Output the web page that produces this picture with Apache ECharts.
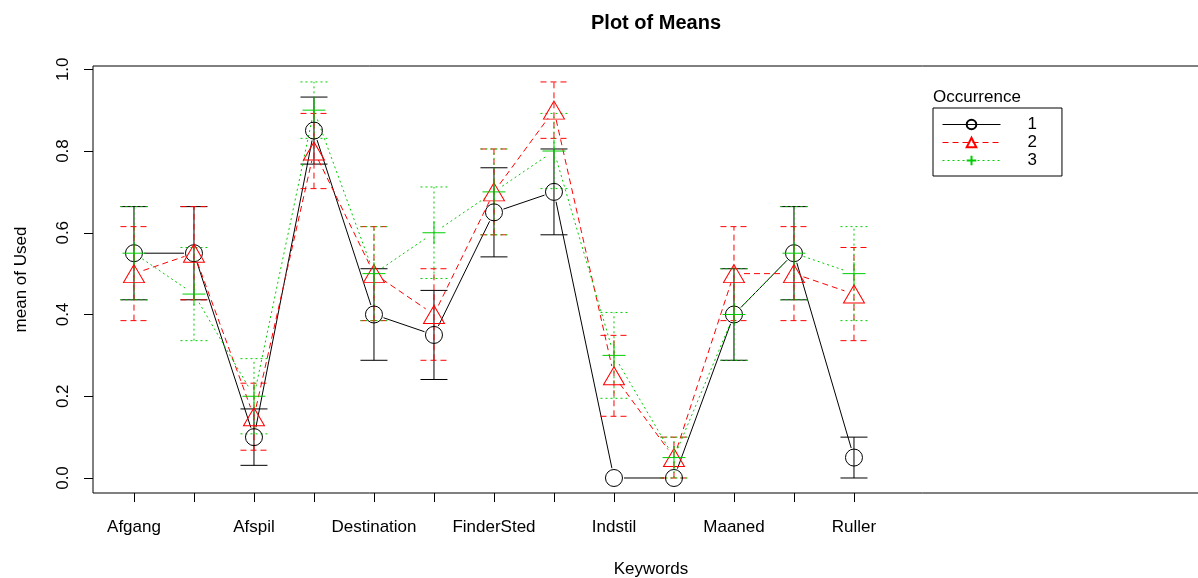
<!DOCTYPE html>
<html>
<head>
<meta charset="utf-8">
<title>Plot of Means</title>
<script src="https://cdn.jsdelivr.net/npm/echarts@6/dist/echarts.min.js"></script>
<style>
  html, body { margin: 0; padding: 0; background: #fff; }
  #chart { width: 1198px; height: 578px; }
</style>
</head>
<body>
<div id="chart"></div>
<script>
// keyword positions 1..13, only every other label is printed in the original
var tickLabels = ['Afgang', null, 'Afspil', null, 'Destination', null, 'FinderSted', null, 'Indstil', null, 'Maaned', null, 'Ruller'];
var yTicks = [0, 0.2, 0.4, 0.6, 0.8, 1.0];
var occurrence = ['1', '2', '3'];

// means
var mean1 = [0.55, 0.55, 0.10, 0.85, 0.40, 0.35, 0.65, 0.70, 0.00, 0.00, 0.40, 0.55, 0.05];
var mean2 = [0.50, 0.55, 0.15, 0.80, 0.50, 0.40, 0.70, 0.90, 0.25, 0.05, 0.50, 0.50, 0.45];
var mean3 = [0.55, 0.45, 0.20, 0.90, 0.50, 0.60, 0.70, 0.80, 0.30, 0.05, 0.40, 0.55, 0.50];

// half length of the error bars
var se1 = [0.114, 0.114, 0.069, 0.082, 0.112, 0.109, 0.109, 0.105, 0, 0, 0.112, 0.114, 0.05];
var se2 = [0.115, 0.114, 0.082, 0.092, 0.115, 0.112, 0.105, 0.069, 0.099, 0.05, 0.115, 0.115, 0.114];
var se3 = [0.114, 0.114, 0.092, 0.069, 0.115, 0.112, 0.105, 0.092, 0.105, 0.05, 0.112, 0.114, 0.115];

var FONT = 'Liberation Sans, Arial, sans-serif';
var groups = [
  { name: occurrence[0], mean: mean1, se: se1, color: '#000000', dash: 'solid', symbol: 'circle', size: 17 },
  { name: occurrence[1], mean: mean2, se: se2, color: '#FF0000', dash: [6, 4], symbol: 'triangle', size: [21, 18] },
  { name: occurrence[2], mean: mean3, se: se3, color: '#00CD00', dash: [2, 3], symbol: 'path://M10,0L10,20M0,10L20,10', size: 23 }
];

function lineDash(d) {
  return d === 'solid' ? null : d;
}

var series = [];
groups.forEach(function (g) {
  // error bars: [x, low, high]
  var bars = g.mean.map(function (m, i) {
    return [i + 1, Math.max(0, m - g.se[i]), m + g.se[i]];
  });
  series.push({
    type: 'custom',
    silent: true,
    encode: { x: 0, y: [1, 2] },
    data: bars,
    renderItem: function (params, api) {
      var x = api.value(0), lo = api.value(1), hi = api.value(2);
      if (hi - lo <= 0) return null;
      var pl = api.coord([x, lo]), ph = api.coord([x, hi]);
      var st = { stroke: g.color, lineWidth: 1, lineDash: lineDash(g.dash), fill: null };
      var w = 13.5;
      return {
        type: 'group',
        children: [
          { type: 'line', shape: { x1: pl[0], y1: pl[1], x2: ph[0], y2: ph[1] }, style: st },
          { type: 'line', shape: { x1: pl[0] - w, y1: pl[1], x2: pl[0] + w, y2: pl[1] }, style: st },
          { type: 'line', shape: { x1: ph[0] - w, y1: ph[1], x2: ph[0] + w, y2: ph[1] }, style: st }
        ]
      };
    }
  });

  // connecting lines, left short of the points like R type="b"
  var segs = [];
  for (var i = 0; i < g.mean.length - 1; i++) {
    segs.push([i + 1, g.mean[i], i + 2, g.mean[i + 1]]);
  }
  series.push({
    type: 'custom',
    silent: true,
    encode: { x: [0, 2], y: [1, 3] },
    data: segs,
    renderItem: function (params, api) {
      var p1 = api.coord([api.value(0), api.value(1)]);
      var p2 = api.coord([api.value(2), api.value(3)]);
      var dx = p2[0] - p1[0], dy = p2[1] - p1[1];
      var len = Math.sqrt(dx * dx + dy * dy);
      var gap = 10;
      if (len <= 2 * gap) return null;
      var ux = dx / len, uy = dy / len;
      return {
        type: 'line',
        shape: { x1: p1[0] + ux * gap, y1: p1[1] + uy * gap, x2: p2[0] - ux * gap, y2: p2[1] - uy * gap },
        style: { stroke: g.color, lineWidth: 1, lineDash: lineDash(g.dash), fill: null }
      };
    }
  });

  // the points themselves (also feeds the legend)
  series.push({
    name: g.name,
    type: 'line',
    silent: true,
    data: g.mean.map(function (m, i) { return [i + 1, m]; }),
    symbol: g.symbol,
    symbolSize: g.size,
    showSymbol: true,
    lineStyle: { color: g.color, width: 1, type: g.dash, opacity: 0 },
    itemStyle: { color: 'rgba(0,0,0,0)', borderColor: g.color, borderWidth: 1 },
    z: 5
  });
});

var chart = echarts.init(document.getElementById('chart'), null, { renderer: 'canvas' });
var option = {
  animation: false,
  backgroundColor: '#ffffff',
  textStyle: { fontFamily: FONT, color: '#000' },
  title: [
    {
      text: 'Plot of Means',
      left: 651, top: 8, textAlign: 'center',
      textStyle: { fontFamily: FONT, fontSize: 20, fontWeight: 'bold', color: '#000' }
    },
    {
      text: 'Occurrence',
      left: 928, top: 84,
      textStyle: { fontFamily: FONT, fontSize: 17, fontWeight: 'normal', color: '#000' }
    }
  ],
  legend: {
    data: occurrence,
    orient: 'vertical',
    left: 933, top: 108,
    padding: [8, 25, 7, 9],
    itemWidth: 58, itemHeight: 12, itemGap: 1,
    borderColor: '#000', borderWidth: 1, borderRadius: 0,
    backgroundColor: '#fff',
    selectedMode: false,
    lineStyle: { width: 1, opacity: 1 },
    textStyle: { fontFamily: FONT, fontSize: 17, color: '#000', padding: [0, 0, 0, 22] }
  },
  grid: {
    show: true,
    left: 93, top: 66, width: 1116, height: 427,
    outerBoundsMode: 'none',
    containLabel: false,
    borderColor: '#000', borderWidth: 1,
    backgroundColor: 'rgba(0,0,0,0)'
  },
  xAxis: {
    type: 'value',
    min: 0.317, max: 18.917,
    name: 'Keywords',
    nameLocation: 'middle',
    nameGap: 68,
    nameTextStyle: { fontFamily: FONT, fontSize: 17, color: '#000' },
    axisLine: { show: false, onZero: false },
    splitLine: { show: false },
    axisTick: {
      show: true, inside: false, length: 9,
      lineStyle: { color: '#000', width: 1 },
      customValues: tickLabels.map(function (t, i) { return i + 1; })
    },
    axisLabel: {
      fontFamily: FONT, fontSize: 17, color: '#000', margin: 26,
      customValues: tickLabels.map(function (t, i) { return i + 1; }),
      formatter: function (v) { return tickLabels[Math.round(v) - 1] || ''; }
    }
  },
  yAxis: {
    type: 'value',
    min: -0.0367, max: 1.008,
    name: 'mean of Used',
    nameLocation: 'middle',
    nameRotate: 90,
    nameGap: 63,
    nameTextStyle: { fontFamily: FONT, fontSize: 17, color: '#000' },
    axisLine: { show: false, onZero: false },
    splitLine: { show: false },
    axisTick: {
      show: true, inside: false, length: 9,
      lineStyle: { color: '#000', width: 1 },
      customValues: yTicks
    },
    axisLabel: {
      fontFamily: FONT, fontSize: 17, color: '#000', margin: 21, rotate: 90,
      customValues: yTicks,
      formatter: function (v) { return v.toFixed(1); }
    }
  },
  series: series
};

if (option && typeof option === 'object') {
  chart.setOption(option, true);
}
</script>
</body>
</html>
